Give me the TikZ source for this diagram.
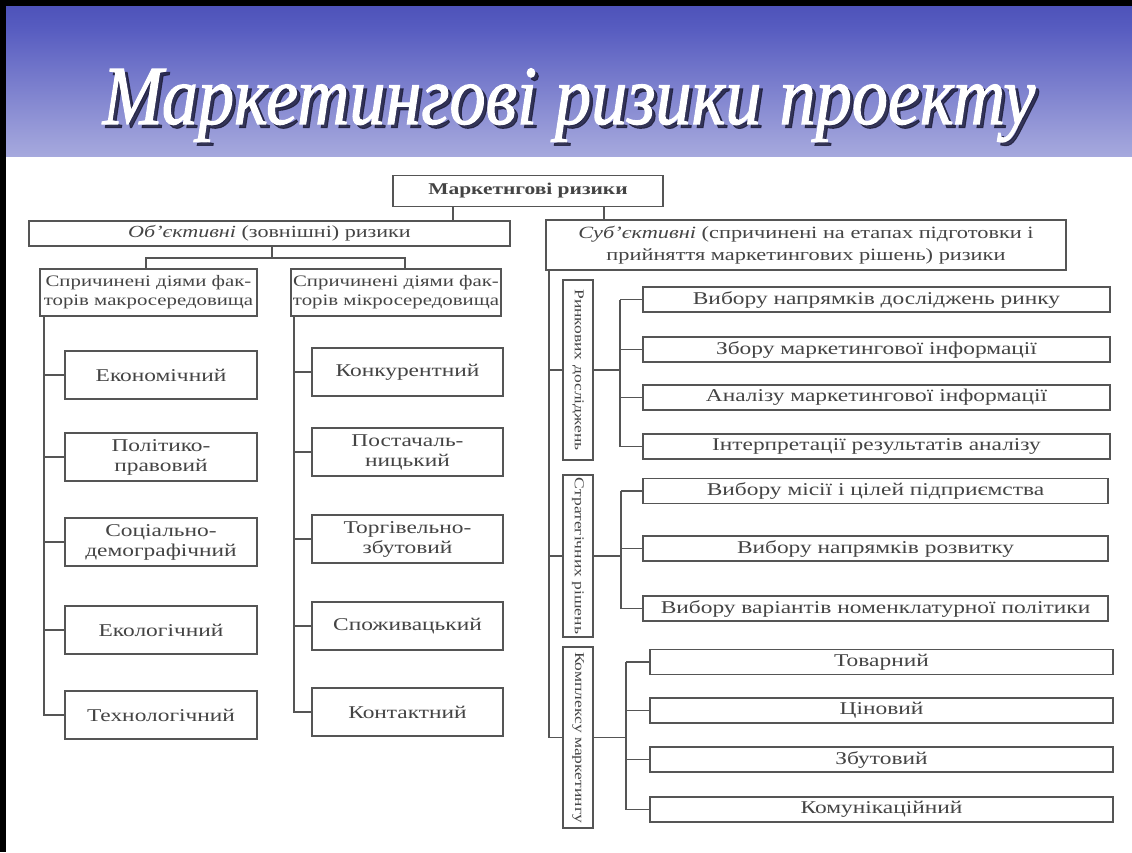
\documentclass[tikz,border=0pt]{standalone}
\usepackage{fontspec}
\setmainfont{Liberation Serif}[FakeStretch=1.3]
\newfontfamily\titlefont{Liberation Serif}[FakeStretch=0.86, FakeBold=1.2]
\usetikzlibrary{calc}

\definecolor{ink}{HTML}{444444}
\definecolor{rule}{HTML}{555555}
\definecolor{bandA}{HTML}{DDDDF2}
\definecolor{bandB}{HTML}{C7C9EA}
\definecolor{bandC}{HTML}{9DA0DA}
\definecolor{bandD}{HTML}{575CC0}
\definecolor{bandE}{HTML}{2B2FA0}
\definecolor{titleshadow}{HTML}{1C1C38}

\pgfdeclareverticalshading{titleband}{100bp}{%
  color(0bp)=(bandA); color(6bp)=(bandB); color(30bp)=(bandC);
  color(66bp)=(bandD); color(100bp)=(bandE)}

\tikzset{
  box/.style={draw=rule, line width=1.5pt, fill=white, text=ink, align=center,
    inner sep=0pt, font=\fontsize{18}{20}\selectfont},
  midbox/.style={box, font=\fontsize{16}{19}\selectfont},
  sidebox/.style={box, rotate=-90, minimum height=30pt,
    font=\fontsize{13.5}{16}\selectfont},
  link/.style={draw=rule, line width=1.5pt},
}

\begin{document}
\begin{tikzpicture}[x=1pt, y=-1pt]
\useasboundingbox (0,0) rectangle (1132,852);
\fill[white] (0,0) rectangle (1132,852);

% title band
\shade[shading=titleband] (0,0) rectangle (1132,156);
\fill[black] (0,0) rectangle (1132,6);
\fill[black] (0,0) rectangle (6,852);

\node[anchor=base, text=titleshadow, opacity=0.8] (titlesh) at (572.5,127.5)
  {\titlefont\itshape\fontsize{84}{90}\selectfont Маркетингові ризики проекту};
\node[anchor=base, text=white] (title) at (569,124)
  {\titlefont\itshape\fontsize{84}{90}\selectfont Маркетингові ризики проекту};

% top levels
\node[box, minimum width=270pt, minimum height=31pt,
  font=\bfseries\fontsize{16.5}{19}\selectfont] (root) at (528,191) {Маркетнгові ризики};
\node[box, minimum width=481pt, minimum height=25pt,
  font=\fontsize{17}{19}\selectfont] (obj) at (269.5,233.5)
  {\textit{Об’єктивні} (зовнішні) ризики};
\node[box, minimum width=520pt, minimum height=50pt,
  font=\fontsize{17.2}{22}\selectfont] (subj) at (806,245)
  {\textit{Суб’єктивні} (спричинені на етапах підготовки і\\
   прийняття маркетингових рішень) ризики};

\coordinate (xo) at (453,0);
\coordinate (xs) at (604,0);
\draw[link] (root.south -| xo) -- (obj.north -| xo);
\draw[link] (root.south -| xs) -- (subj.north -| xs);

% objective branch
\node[midbox, minimum width=217pt, minimum height=47pt] (macro) at (148.5,292.5)
  {Спричинені діями фак-\\торів макросередовища};
\node[midbox, minimum width=210pt, minimum height=47pt] (micro) at (396,292.5)
  {Спричинені діями фак-\\торів мікросередовища};

\coordinate (oj) at (272,258);
\coordinate (dl) at (146,258);
\coordinate (dr) at (405,258);
\draw[link] (obj.south -| oj) -- (oj);
\draw[link] (macro.north -| dl) -- (dl) -- (dr) -- (micro.north -| dr);

% macro-environment risks
\begin{scope}[every node/.style={box, minimum width=192pt, minimum height=48pt}]
\node (econ) at (161,375) {Економічний};
\node (polit) at (161,457) {Політико-\\правовий};
\node (soc) at (161,542) {Соціально-\\демографічний};
\node (eco) at (161,630) {Екологічний};
\node (tech) at (161,715) {Технологічний};
\end{scope}
\coordinate (lv) at (44,0);
\draw[link] (macro.south -| lv) |- (tech.west);
\foreach \n in {econ,polit,soc,eco}
  \draw[link] (\n.west -| lv) -- (\n.west);

% micro-environment risks
\begin{scope}[every node/.style={box, minimum width=191pt, minimum height=48pt}]
\node (comp) at (407.5,372) {Конкурентний};
\node (supp) at (407.5,452) {Постачаль-\\ницький};
\node (trade) at (407.5,539) {Торгівельно-\\збутовий};
\node (cons) at (407.5,626) {Споживацький};
\node (cont) at (407.5,712) {Контактний};
\end{scope}
\coordinate (mv) at (294,0);
\draw[link] (micro.south -| mv) |- (cont.west);
\foreach \n in {comp,supp,trade,cons}
  \draw[link] (\n.west -| mv) -- (\n.west);

% subjective branch: group labels
\node[sidebox, minimum width=180pt] (lab1) at (578,370) {Ринкових досліджень};
\node[sidebox, minimum width=162pt] (lab2) at (578,556) {Стратегічних рішень};
\node[sidebox, minimum width=181pt] (lab3) at (578,737.5) {Комплексу маркетингу};

\coordinate (rv) at (549,0);
\draw[link] (subj.south -| rv) |- (lab3.south);
\draw[link] (lab1.south -| rv) -- (lab1.south);
\draw[link] (lab2.south -| rv) -- (lab2.south);

% market research
\begin{scope}[every node/.style={box, minimum width=467pt, minimum height=25pt}]
\node (r11) at (876.5,299.5) {Вибору напрямків досліджень ринку};
\node (r12) at (876.5,349.5) {Збору маркетингової інформації};
\node (r13) at (876.5,397.5) {Аналізу маркетингової інформації};
\node (r14) at (876.5,446.5) {Інтерпретації результатів аналізу};
\end{scope}
\coordinate (b1) at (620,0);
\draw[link] (lab1.north) -- (lab1.north -| b1);
\draw[link] (r11.west -| b1) -- (r14.west -| b1);
\foreach \n in {r11,r12,r13,r14}
  \draw[link] (\n.west -| b1) -- (\n.west);

% strategic decisions
\begin{scope}[every node/.style={box, minimum width=465pt, minimum height=25pt}]
\node (r21) at (875.5,491) {Вибору місії і цілей підприємства};
\node (r22) at (875.5,548.5) {Вибору напрямків розвитку};
\node (r23) at (875.5,608.5) {Вибору варіантів номенклатурної політики};
\end{scope}
\coordinate (b2) at (621,0);
\draw[link] (lab2.north) -- (lab2.north -| b2);
\draw[link] (r21.west -| b2) -- (r23.west -| b2);
\foreach \n in {r21,r22,r23}
  \draw[link] (\n.west -| b2) -- (\n.west);

% marketing mix
\begin{scope}[every node/.style={box, minimum width=463pt, minimum height=25pt}]
\node (r31) at (881.5,662) {Товарний};
\node (r32) at (881.5,710.5) {Ціновий};
\node (r33) at (881.5,759.5) {Збутовий};
\node (r34) at (881.5,809.5) {Комунікаційний};
\end{scope}
\coordinate (b3) at (626,0);
\draw[link] (lab3.north) -- (lab3.north -| b3);
\draw[link] (r31.west -| b3) -- (r34.west -| b3);
\foreach \n in {r31,r32,r33,r34}
  \draw[link] (\n.west -| b3) -- (\n.west);

\end{tikzpicture}
\end{document}
